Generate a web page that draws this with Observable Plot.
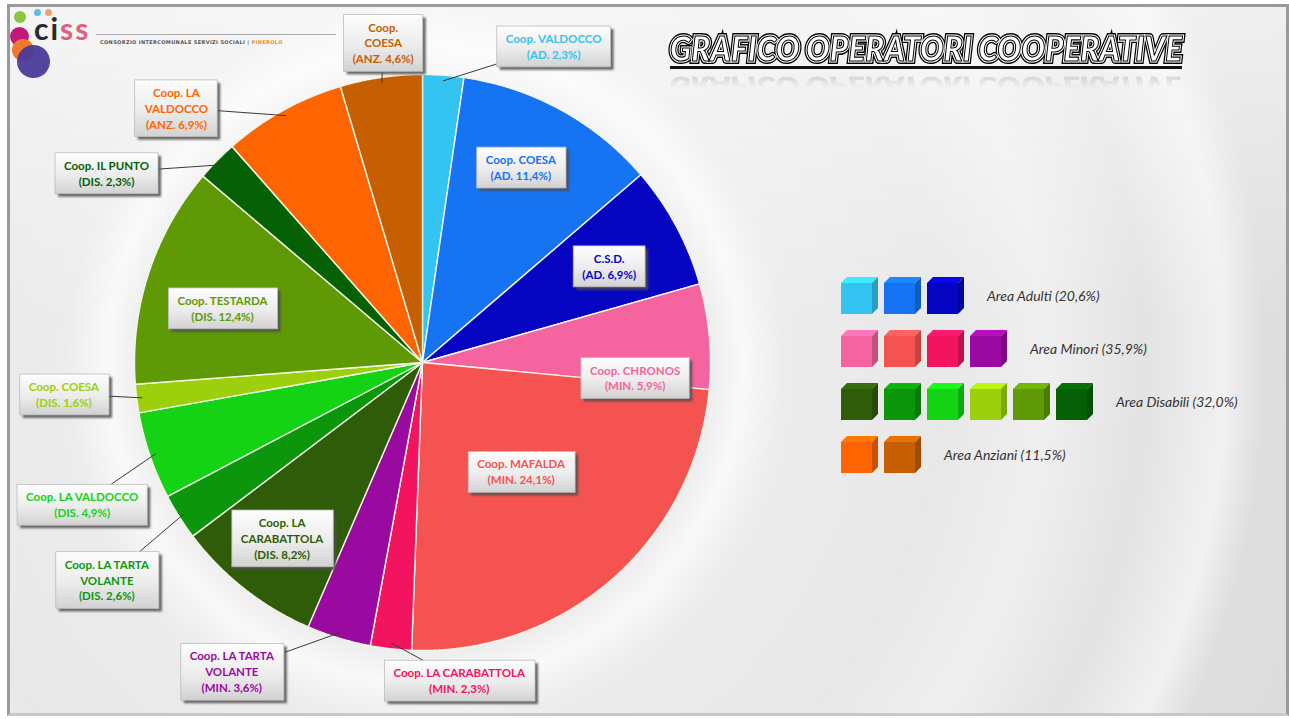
<!DOCTYPE html>
<html>
<head>
<meta charset="utf-8">
<script src="https://cdn.jsdelivr.net/npm/d3@7"></script>
<script src="https://cdn.jsdelivr.net/npm/@observablehq/plot@0.6"></script>
<style>
html,body{margin:0;padding:0;background:#fff;}
#page{position:relative;width:1289px;height:719px;overflow:hidden;font-family:Lato,"Open Sans",sans-serif;}
#frame{position:absolute;left:7px;top:4px;width:1276px;height:706px;border:3px solid #9a9a9a;border-bottom-color:#c8c8c8;
 background:
  linear-gradient(180deg, rgba(255,255,255,0.55) 0%, rgba(255,255,255,0) 45%),
  radial-gradient(circle at 415px 358px, #f4f4f4 0px, #ededed 285px, #f9f9f9 318px, #ececec 360px, #e8e8e8 520px, #efefef 620px, #e3e3e3 720px, #f1f1f1 800px, #dedede 840px, #d9d9d9 1100px);}
#chart{position:absolute;left:0;top:0;}
#logo{position:absolute;left:0;top:0;width:340px;height:80px;}
.dot{position:absolute;border-radius:50%;}
#ciss{position:absolute;left:34px;top:10px;font:bold 30px Lato,sans-serif;letter-spacing:2px;color:#2a2a2a;}
#ciss span{color:#e0607e;}
#logoline{position:absolute;left:96px;top:34px;width:240px;height:1px;background:#a8a8a8;}
#logotext{position:absolute;left:100px;top:39px;font:bold 5px "DejaVu Sans",sans-serif;letter-spacing:0.35px;color:#555;white-space:nowrap;}
#logotext span{color:#e8902a;}
.title{position:absolute;left:670px;top:27px;font:italic 900 34px Lato,sans-serif;white-space:nowrap;transform-origin:0 0;}
#titleA{color:#000;-webkit-text-stroke:6px #000;}
#titleB{color:#fff;-webkit-text-stroke:3.2px #fff;}
#titleC{color:#fff;-webkit-text-stroke:1.1px #000;}
#titleRefl{color:#9a9a9a;-webkit-text-stroke:0.8px #8a8a8a;opacity:0.5;
 -webkit-mask-image:linear-gradient(0deg, rgba(0,0,0,0.9) 0%, rgba(0,0,0,0) 55%);}
#underline{position:absolute;left:670px;top:66px;width:512px;height:3px;background:#111;}
#legend{position:absolute;left:840px;top:276px;}
.lrow{display:flex;align-items:center;height:38px;margin-bottom:15px;}
.lrow svg{margin-right:5px;flex:none;}
.ltext{font:italic 14px Lato,sans-serif;color:#333;margin-left:18px;white-space:nowrap;}
</style>
</head>
<body>
<div id="page">
  <div id="frame"></div>
  <div id="logo">
    <div class="dot" style="left:14px;top:11px;width:12px;height:12px;background:#8cc63f"></div>
    <div class="dot" style="left:34px;top:9px;width:7px;height:7px;background:#5bc0de"></div>
    <div class="dot" style="left:45px;top:9px;width:7px;height:7px;background:#f0a070"></div>
    <div class="dot" style="left:10px;top:27px;width:19px;height:19px;background:#c2187a"></div>
    <div class="dot" style="left:12px;top:39px;width:22px;height:22px;background:#f07a2a"></div>
    <div class="dot" style="left:17px;top:45px;width:33px;height:33px;background:#4a3a9a;opacity:0.95"></div>
    <div id="ciss">ci<span>ss</span></div>
    <div id="logoline"></div>
    <div id="logotext">CONSORZIO INTERCOMUNALE SERVIZI SOCIALI | <span>PINEROLO</span></div>
  </div>
  <div id="chart"></div>
  <div class="title" id="titleRefl">GRAFICO OPERATORI COOPERATIVE</div>
  <div class="title" id="titleA">GRAFICO OPERATORI COOPERATIVE</div>
  <div class="title" id="titleB">GRAFICO OPERATORI COOPERATIVE</div>
  <div class="title" id="titleC">GRAFICO OPERATORI COOPERATIVE</div>
  <div id="underline"></div>
  <div id="legend"></div>
</div>
<script>
// ---------- data ----------
const cooperatives = ["Coop. VALDOCCO","Coop. COESA","C.S.D.","Coop. CHRONOS","Coop. MAFALDA","Coop. LA CARABATTOLA","Coop. LA TARTA VOLANTE","Coop. LA CARABATTOLA","Coop. LA TARTA VOLANTE","Coop. LA VALDOCCO","Coop. COESA","Coop. TESTARDA","Coop. IL PUNTO","Coop. LA VALDOCCO","Coop. COESA"];
const areaCodes = ["AD","AD","AD","MIN","MIN","MIN","MIN","DIS","DIS","DIS","DIS","DIS","DIS","ANZ","ANZ"];
const shares = [2.3,11.4,6.9,5.9,24.1,2.3,3.6,8.2,2.6,4.9,1.6,12.4,2.3,6.9,4.6];
const sliceColors = ["#33c4f2","#1673f2","#0606c2","#f5649e","#f55252","#f2145e","#9a0aa0","#2e5c08","#0c960c","#14d214","#9ccf0c","#5f9a06","#066006","#fe6402","#c65e02"];
const legendAreas = ["AD","MIN","DIS","ANZ"];
const legendNames = ["Area Adulti","Area Minori","Area Disabili","Area Anziani"];

// ---------- layout (label placement: angle deg clockwise from top, radius in pie radii, wrap chars) ----------
const labelLayout = [[22.5,1.19,20],[26.7,0.76,20],[62.6,0.73,20],[94,0.74,20],[137.8,0.51,20],[173.4,1.11,30],[211.7,1.26,14],[218.7,0.78,10],[235.5,1.33,14],[247.4,1.28,20],[265,1.25,20],[285.3,0.72,20],[301,1.28,20],[316,1.23,10],[353,1.12,6]];

const W = 1289, H = 719, cx = 422, cy = 362, R = 288;
const fmt = v => d3.format(".1f")(v).replace(".", ",");
function wrap(s, n) {
  const words = s.split(" "), lines = [];
  let cur = "";
  for (const w of words) {
    if (cur && (cur + " " + w).length > n) { lines.push(cur); cur = w; }
    else cur = cur ? cur + " " + w : w;
  }
  if (cur) lines.push(cur);
  return lines.join("\n");
}

const rows = cooperatives.map((c, i) => ({i, name: c, area: areaCodes[i], value: shares[i], color: sliceColors[i]}));
const arcs = d3.pie().sort(null).value(d => d.value)(rows);

// slice polygons
const polyPts = [];
for (const a of arcs) {
  polyPts.push({i: a.data.i, x: 0, y: 0, color: a.data.color});
  const n = Math.max(2, Math.ceil((a.endAngle - a.startAngle) / 0.004));
  for (let k = 0; k <= n; k++) {
    const t = a.startAngle + (a.endAngle - a.startAngle) * k / n;
    polyPts.push({i: a.data.i, x: Math.sin(t), y: Math.cos(t), color: a.data.color});
  }
}

const labels = arcs.map((a, i) => {
  const [ang, r, wr] = labelLayout[i];
  const t = ang * Math.PI / 180, mid = (a.startAngle + a.endAngle) / 2;
  return {
    x: r * Math.sin(t), y: r * Math.cos(t),
    lx: 0.98 * Math.sin(mid), ly: 0.98 * Math.cos(mid),
    outside: r > 1,
    text: wrap(a.data.name, wr) + "\n(" + a.data.area + ". " + fmt(a.data.value) + "%)",
    color: a.data.color
  };
});

const svg = Plot.plot({
  width: W, height: H, margin: 0,
  x: {domain: [-cx / R, (W - cx) / R], axis: null},
  y: {domain: [-(H - cy) / R, cy / R], axis: null},
  color: {type: "identity"},
  style: {background: "transparent", overflow: "visible"},
  marks: [
    Plot.line(polyPts, {x: "x", y: "y", z: "i", fill: "color", stroke: "#f3f6e6", strokeWidth: 1.4, curve: "linear-closed"}),
    Plot.link(labels.filter(d => d.outside), {x1: "lx", y1: "ly", x2: "x", y2: "y", stroke: "#3a3a3a", strokeWidth: 1}),
    Plot.text(labels, {x: "x", y: "y", text: "text", fill: "color", fontWeight: "bold", fontSize: 11.5, lineHeight: 1.38, fontFamily: "Lato, sans-serif", ariaLabel: "slice-label"})
  ]
});
document.getElementById("chart").appendChild(svg);

// label boxes
const ns = "http://www.w3.org/2000/svg";
const defs = d3.select(svg).insert("defs", ":first-child");
const g = defs.append("linearGradient").attr("id", "boxg").attr("x1", 0).attr("y1", 0).attr("x2", 0).attr("y2", 1);
g.append("stop").attr("offset", 0).attr("stop-color", "#fdfdfd");
g.append("stop").attr("offset", 0.55).attr("stop-color", "#ececec");
g.append("stop").attr("offset", 1).attr("stop-color", "#d2d2d2");
defs.append("filter").attr("id", "bsh").attr("x", "-20%").attr("y", "-20%").attr("width", "140%").attr("height", "140%")
  .append("feGaussianBlur").attr("stdDeviation", 1.1);
const tg = svg.querySelector('g[aria-label="slice-label"]') || [...svg.querySelectorAll("g")].find(n => n.querySelector("text"));
for (const t of tg.querySelectorAll("text")) {
  const b = t.getBBox(), tr = t.getAttribute("transform");
  const px = 9, py = 6;
  const sh = document.createElementNS(ns, "rect");
  sh.setAttribute("x", b.x - px + 3); sh.setAttribute("y", b.y - py + 3);
  sh.setAttribute("width", b.width + 2 * px); sh.setAttribute("height", b.height + 2 * py);
  sh.setAttribute("fill", "#4e4e4e"); sh.setAttribute("opacity", "0.85"); sh.setAttribute("filter", "url(#bsh)");
  const bx = document.createElementNS(ns, "rect");
  bx.setAttribute("x", b.x - px); bx.setAttribute("y", b.y - py);
  bx.setAttribute("width", b.width + 2 * px); bx.setAttribute("height", b.height + 2 * py);
  bx.setAttribute("fill", "url(#boxg)"); bx.setAttribute("stroke", "#bcbcbc"); bx.setAttribute("stroke-width", 0.8);
  if (tr) { sh.setAttribute("transform", tr); bx.setAttribute("transform", tr); }
  tg.insertBefore(sh, t); tg.insertBefore(bx, t);
}

// title fit
const titles = document.querySelectorAll(".title");
const tw = titles[1].getBoundingClientRect().width;
const sx = 512 / tw;
titles.forEach(el => { el.style.transform = "scaleX(" + sx + ")"; });
const refl = document.getElementById("titleRefl");
refl.style.top = "66px";
refl.style.transform = "scaleX(" + sx + ") scaleY(-0.7)";
refl.style.transformOrigin = "0 50%";

// legend
const legend = d3.select("#legend");
legendAreas.forEach((code, k) => {
  const row = legend.append("div").attr("class", "lrow");
  const idx = d3.range(rows.length).filter(i => areaCodes[i] === code);
  for (const i of idx) {
    const c = d3.color(sliceColors[i]);
    const s = row.append("svg").attr("width", 38).attr("height", 38);
    const f = 31, d = 6;
    s.append("polygon").attr("points", `1,${d+1} ${1+d},1 ${1+d+f},1 ${1+f},${d+1}`).attr("fill", c.brighter(0.5));
    s.append("polygon").attr("points", `${1+f},${d+1} ${1+d+f},1 ${1+d+f},${1+f} ${1+f},${d+1+f}`).attr("fill", c.darker(0.6));
    s.append("rect").attr("x", 1).attr("y", d + 1).attr("width", f).attr("height", f).attr("fill", c);
  }
  const tot = d3.sum(idx, i => shares[i]);
  row.append("div").attr("class", "ltext").text(legendNames[k] + " (" + fmt(tot) + "%)");
});
</script>
</body>
</html>
